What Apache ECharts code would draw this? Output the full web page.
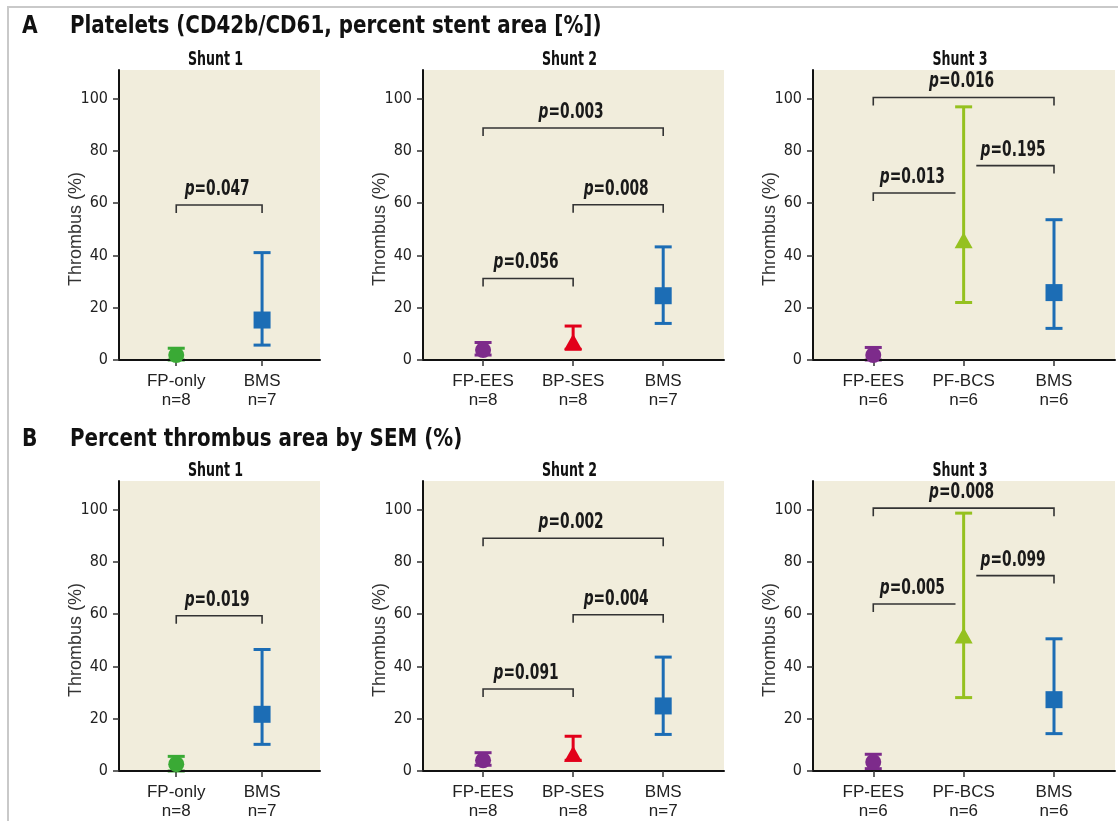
<!DOCTYPE html>
<html><head><meta charset="utf-8">
<script src="https://cdn.jsdelivr.net/npm/echarts@6/dist/echarts.min.js"></script>
<style>html,body{margin:0;padding:0;background:#fff}#c{width:1118px;height:821px}</style>
</head><body><div id="c"></div>
<script>
// ---------- data ----------
const yTicks = [0, 20, 40, 60, 80, 100];

const catsA1 = ['FP-only', 'BMS'];
const nA1 = [8, 7];
const catsA2 = ['FP-EES', 'BP-SES', 'BMS'];
const nA2 = [8, 8, 7];
const catsA3 = ['FP-EES', 'PF-BCS', 'BMS'];
const nA3 = [6, 6, 6];

// Panel A: platelets (mean, lower, upper)
const meanA1 = [1.9, 15.3];
const lowA1 = [0, 5.7];
const highA1 = [4.5, 41.1];
const meanA2 = [3.8, 7.0, 24.6];
const lowA2 = [1.9, 4.1, 14.0];
const highA2 = [6.7, 13.0, 43.3];
const meanA3 = [1.9, 45.8, 25.8];
const lowA3 = [0, 22.0, 12.1];
const highA3 = [4.8, 96.9, 53.7];

// Panel B: thrombus area by SEM
const meanB1 = [2.6, 21.7];
const lowB1 = [0, 10.2];
const highB1 = [5.6, 46.5];
const meanB2 = [4.1, 6.6, 24.9];
const lowB2 = [2.2, 4.1, 14.0];
const highB2 = [7.0, 13.3, 43.6];
const meanB3 = [3.4, 51.9, 27.3];
const lowB3 = [0.9, 28.1, 14.3];
const highB3 = [6.4, 98.7, 50.6];

// p-value brackets
const pLabA1 = ['0.047'];  const pFromA1 = [0];  const pToA1 = [1];  const pYA1 = [59.3];  const pLegA1 = ['both'];
const pLabA2 = ['0.003', '0.008', '0.056'];  const pFromA2 = [0, 1, 0];  const pToA2 = [2, 2, 1];  const pYA2 = [88.8, 59.4, 31.2];  const pLegA2 = ['both', 'both', 'both'];
const pLabA3 = ['0.016', '0.013', '0.195'];  const pFromA3 = [0, 0, 1.14];  const pToA3 = [2, 0.91, 2];  const pYA3 = [100.5, 63.9, 74.4];  const pLegA3 = ['both', 'left', 'right'];
const pLabB1 = ['0.019'];  const pFromB1 = [0];  const pToB1 = [1];  const pYB1 = [59.4];  const pLegB1 = ['both'];
const pLabB2 = ['0.002', '0.004', '0.091'];  const pFromB2 = [0, 1, 0];  const pToB2 = [2, 2, 1];  const pYB2 = [89.1, 59.8, 31.4];  const pLegB2 = ['both', 'both', 'both'];
const pLabB3 = ['0.008', '0.005', '0.099'];  const pFromB3 = [0, 0, 1.14];  const pToB3 = [2, 0.91, 2];  const pYB3 = [100.6, 63.9, 74.8];  const pLegB3 = ['both', 'left', 'right'];

// ---------- styles ----------
const NARROW = "'Liberation Sans Narrow', 'Arial Narrow', 'DejaVu Sans Condensed', sans-serif";
const SANS = "'Liberation Sans', Arial, sans-serif";
const BG = '#f1eddc';
const stentStyle = {
  'FP-only': { color: '#3aaa35', symbol: 'circle', size: 16 },
  'FP-EES':  { color: '#7d2b8b', symbol: 'circle', size: 16 },
  'BP-SES':  { color: '#e2001a', symbol: 'triangle', size: [18, 16] },
  'PF-BCS':  { color: '#95c11f', symbol: 'triangle', size: [18, 16] },
  'BMS':     { color: '#1c6db5', symbol: 'rect', size: 17 }
};

const panels = [
  { cats: catsA1, n: nA1, mean: meanA1, low: lowA1, high: highA1, pLab: pLabA1, pFrom: pFromA1, pTo: pToA1, pY: pYA1, pLeg: pLegA1, title: 'Shunt 1', grid: { left: 119, top: 70, width: 201, height: 290 } },
  { cats: catsA2, n: nA2, mean: meanA2, low: lowA2, high: highA2, pLab: pLabA2, pFrom: pFromA2, pTo: pToA2, pY: pYA2, pLeg: pLegA2, title: 'Shunt 2', grid: { left: 423, top: 70, width: 301, height: 290 } },
  { cats: catsA3, n: nA3, mean: meanA3, low: lowA3, high: highA3, pLab: pLabA3, pFrom: pFromA3, pTo: pToA3, pY: pYA3, pLeg: pLegA3, title: 'Shunt 3', grid: { left: 813, top: 70, width: 302, height: 290 } },
  { cats: catsA1, n: nA1, mean: meanB1, low: lowB1, high: highB1, pLab: pLabB1, pFrom: pFromB1, pTo: pToB1, pY: pYB1, pLeg: pLegB1, title: 'Shunt 1', grid: { left: 119, top: 481, width: 201, height: 290 } },
  { cats: catsA2, n: nA2, mean: meanB2, low: lowB2, high: highB2, pLab: pLabB2, pFrom: pFromB2, pTo: pToB2, pY: pYB2, pLeg: pLegB2, title: 'Shunt 2', grid: { left: 423, top: 481, width: 301, height: 290 } },
  { cats: catsA3, n: nA3, mean: meanB3, low: lowB3, high: highB3, pLab: pLabB3, pFrom: pFromB3, pTo: pToB3, pY: pYB3, pLeg: pLegB3, title: 'Shunt 3', grid: { left: 813, top: 481, width: 302, height: 290 } }
];

const grids = [], xAxes = [], yAxes = [], series = [];
const graphics = [
  { type: 'rect', z: 0, shape: { x: 8, y: 7, width: 1300, height: 1000 }, style: { fill: 'none', stroke: '#c9c9c9', lineWidth: 2 } },
  { type: 'text', x: 22, y: 26, scaleX: 0.9, style: { text: 'A', font: "bold 25px " + NARROW, fill: '#111', verticalAlign: 'middle' } },
  { type: 'text', x: 70, y: 27, scaleX: 0.92, style: { text: 'Platelets (CD42b/CD61, percent stent area [%])', font: "bold 24px " + NARROW, fill: '#111', verticalAlign: 'middle' } },
  { type: 'text', x: 22, y: 439, scaleX: 0.9, style: { text: 'B', font: "bold 25px " + NARROW, fill: '#111', verticalAlign: 'middle' } },
  { type: 'text', x: 70, y: 440, scaleX: 0.92, style: { text: 'Percent thrombus area by SEM (%)', font: "bold 24px " + NARROW, fill: '#111', verticalAlign: 'middle' } }
];

panels.forEach((p, gi) => {
  const g = p.grid;
  grids.push(Object.assign({ show: true, backgroundColor: BG, borderWidth: 0 }, g));
  graphics.push({ type: 'text', x: g.left + g.width / 2 - 4, y: g.top - 10, scaleX: 0.7, style: { text: p.title, font: "bold 20px " + NARROW, fill: '#111', align: 'center', verticalAlign: 'middle' } });
  const idx = p.cats.map((c, i) => i);
  xAxes.push({
    gridIndex: gi, type: 'value', min: -0.667, max: p.cats.length - 1 + 0.675,
    axisLine: { show: true, onZero: false, lineStyle: { color: '#111', width: 2 } },
    axisTick: { show: true, customValues: idx, length: 6, lineStyle: { color: '#333', width: 1.5 } },
    axisLabel: { customValues: idx, formatter: v => p.cats[Math.round(v)] + '\nn=' + p.n[Math.round(v)], fontFamily: SANS, fontSize: 17, lineHeight: 19, color: '#222', margin: 12 },
    splitLine: { show: false }, z: 1.5
  });
  yAxes.push({
    gridIndex: gi, type: 'value', min: 0, max: 111,
    axisLine: { show: true, onZero: false, lineStyle: { color: '#111', width: 2 } },
    axisTick: { show: true, customValues: yTicks, length: 6, lineStyle: { color: '#333', width: 1.5 } },
    axisLabel: { customValues: yTicks, fontFamily: NARROW, fontSize: 16, color: '#222', margin: 11 },
    splitLine: { show: false },
    name: 'Thrombus (%)', nameLocation: 'middle', nameGap: 34, nameMoveOverlap: false,
    nameTextStyle: { fontFamily: SANS, fontSize: 18, color: '#333', padding: [0, 28, 0, 0] },
    z: 1.5
  });
  // error bars
  series.push({
    type: 'custom', xAxisIndex: gi, yAxisIndex: gi, z: 1, clip: false,
    data: p.mean.map((v, i) => [i, p.low[i], p.high[i]]),
    encode: { x: 0, y: [1, 2] },
    renderItem: (params, api) => {
      const x = api.value(0);
      const lo = api.coord([x, api.value(1)]);
      const hi = api.coord([x, api.value(2)]);
      const c = stentStyle[p.cats[params.dataIndex]].color;
      const hw = 8.5;
      const st = { stroke: c, lineWidth: 3 };
      return { type: 'group', children: [
        { type: 'line', shape: { x1: lo[0], y1: lo[1], x2: hi[0], y2: hi[1] }, style: st },
        { type: 'line', shape: { x1: hi[0] - hw, y1: hi[1], x2: hi[0] + hw, y2: hi[1] }, style: st },
        { type: 'line', shape: { x1: lo[0] - hw, y1: lo[1], x2: lo[0] + hw, y2: lo[1] }, style: st }
      ] };
    }
  });
  // means
  series.push({
    type: 'scatter', xAxisIndex: gi, yAxisIndex: gi, z: 3,
    data: p.mean.map((v, i) => {
      const s = stentStyle[p.cats[i]];
      return { value: [i, v], symbol: s.symbol, symbolSize: s.size, itemStyle: { color: s.color, opacity: 1 } };
    })
  });
  // brackets
  series.push({
    type: 'custom', xAxisIndex: gi, yAxisIndex: gi, z: 4, clip: false,
    data: p.pLab.map((l, i) => [p.pFrom[i], p.pTo[i], p.pY[i]]),
    encode: { x: [0, 1], y: 2 },
    renderItem: (params, api) => {
      const i = params.dataIndex;
      const a = api.coord([api.value(0), api.value(2)]);
      const b = api.coord([api.value(1), api.value(2)]);
      const leg = 8;
      const kind = p.pLeg[i];
      let pts = [[a[0], a[1]], [b[0], b[1]]];
      if (kind === 'both' || kind === 'left') pts.unshift([a[0], a[1] + leg]);
      if (kind === 'both' || kind === 'right') pts.push([b[0], b[1] + leg]);
      const base = { fontFamily: NARROW, fontSize: 21, fontWeight: 'bold', fill: '#1a1a1a' };
      return { type: 'group', children: [
        { type: 'polyline', shape: { points: pts }, style: { stroke: '#333', lineWidth: 1.6, fill: 'none' } },
        { type: 'text', x: (a[0] + b[0]) / 2 - 2, y: a[1] - 15.5, scaleX: 0.73,
          style: Object.assign({}, base, { text: '{i|p}{n|=' + p.pLab[i] + '}', align: 'center', verticalAlign: 'middle',
            rich: { i: Object.assign({}, base, { fontStyle: 'italic' }), n: Object.assign({}, base) } }) }
      ] };
    }
  });
});

const chart = echarts.init(document.getElementById('c'), null, { renderer: 'canvas' });
chart.setOption({
  animation: false,
  backgroundColor: '#fff',
  grid: grids, xAxis: xAxes, yAxis: yAxes, series: series,
  graphic: graphics
});
</script>
</body></html>
